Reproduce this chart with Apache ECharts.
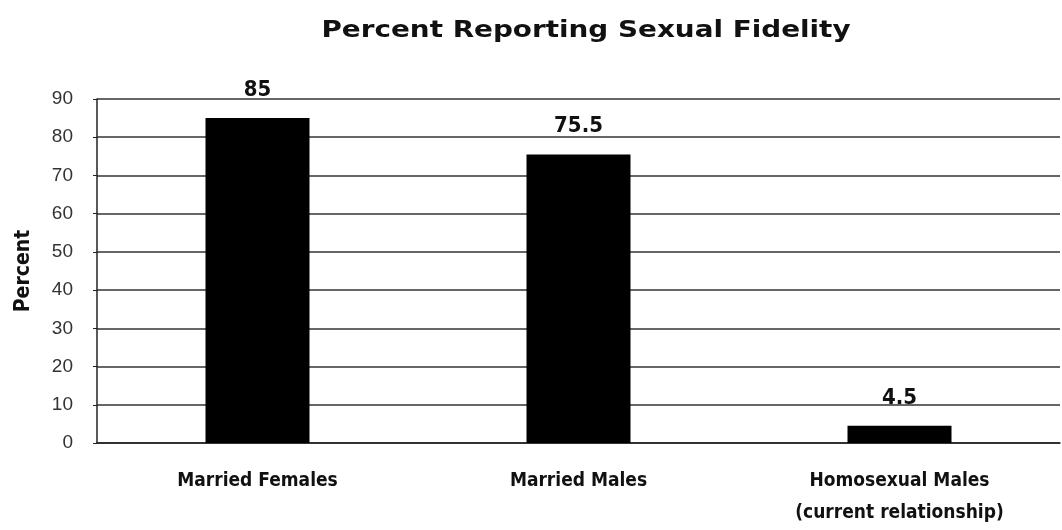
<!DOCTYPE html>
<html><head><meta charset="utf-8">
<script src="https://cdn.jsdelivr.net/npm/echarts@6/dist/echarts.min.js"></script>
<style>html,body{margin:0;padding:0;background:#fff}#c{width:1062px;height:530px}</style>
</head><body><div id="c"></div>
<script>
const categories = ['Married Females', 'Married Males', 'Homosexual Males\n(current relationship)'];
const values = [85, 75.5, 4.5];
const yTicks = [0, 10, 20, 30, 40, 50, 60, 70, 80, 90];
const titleText = 'Percent Reporting Sexual Fidelity';

const narrow = "'Liberation Sans Narrow', 'DejaVu Sans Condensed', 'Liberation Sans', Arial";
const chart = echarts.init(document.getElementById('c'));
chart.setOption({
  animation: false,
  backgroundColor: '#fff',
  graphic: [{
    type: 'text', x: 586, y: 31, scaleX: 1.21, scaleY: 1,
    style: {
      text: titleText, fill: '#111', align: 'center', verticalAlign: 'middle',
      font: "bold 23px 'DejaVu Sans'"
    }
  }],
  grid: { left: 97, right: 2, top: 99, bottom: 87, outerBoundsMode: 'none', containLabel: false },
  xAxis: {
    type: 'category', data: categories,
    axisLine: { lineStyle: { color: '#222', width: 1.5 } },
    axisTick: { show: false },
    axisLabel: {
      margin: 22, lineHeight: 32, color: '#111',
      fontFamily: narrow, fontWeight: 'bold', fontSize: 19
    }
  },
  yAxis: {
    type: 'value', min: yTicks[0], max: yTicks[yTicks.length - 1], interval: 10,
    name: 'Percent', nameLocation: 'middle', nameGap: 63, nameRotate: 90,
    nameTextStyle: { fontFamily: narrow, fontWeight: 'bold', fontSize: 21, color: '#111' },
    axisLine: { show: true, lineStyle: { color: '#222', width: 1.5 } },
    axisTick: { show: true, length: 4, lineStyle: { color: '#222' } },
    axisLabel: { margin: 24, color: '#333', fontFamily: 'Liberation Sans, Arial', fontSize: 19 },
    splitLine: { lineStyle: { color: '#333', width: 1.5 } }
  },
  series: [{
    type: 'bar', data: values, barWidth: '32.4%',
    itemStyle: { color: '#000' },
    label: {
      show: true, position: 'top', distance: 17, color: '#111',
      fontFamily: narrow, fontWeight: 'bold', fontSize: 22
    }
  }]
});
</script></body></html>
